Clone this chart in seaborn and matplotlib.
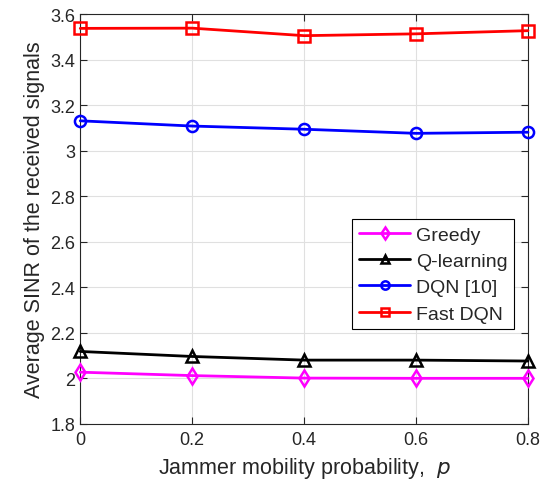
import pandas as pd
import matplotlib.pyplot as plt
import seaborn as sns

p_values = [0, 0.2, 0.4, 0.6, 0.8]
greedy = [2.027, 2.012, 2.001, 2.000, 2.000]
q_learning = [2.118, 2.096, 2.080, 2.080, 2.076]
dqn = [3.131, 3.108, 3.094, 3.076, 3.081]
fast_dqn = [3.537, 3.538, 3.505, 3.513, 3.527]
methods = ["Greedy", "Q-learning", "DQN [10]", "Fast DQN"]
colors = ["#ff00ff", "black", "#0000ff", "#ff0000"]
markers = ["d", "^", "o", "s"]

sns.set_style("whitegrid")
plt.rcParams["font.family"] = ["Liberation Sans", "DejaVu Sans"]

df = pd.DataFrame({
    "p": p_values * 4,
    "sinr": greedy + q_learning + dqn + fast_dqn,
    "method": [m for m in methods for _ in p_values],
})

fig, ax = plt.subplots(figsize=(5.46, 4.85), dpi=100)
fig.subplots_adjust(left=0.147, right=0.967, top=0.969, bottom=0.124)

for m, c, mk in zip(methods, colors, markers):
    sns.lineplot(data=df[df["method"] == m], x="p", y="sinr", label=m,
                 color=c, marker=mk, linewidth=2, markersize=8,
                 markerfacecolor="none", markeredgecolor=c,
                 markeredgewidth=1.8, clip_on=False, zorder=3, ax=ax)

ax.set_xlim(0, 0.8)
ax.set_ylim(1.8, 3.6)
ax.set_xticks(p_values)
ax.set_xticklabels(["0", "0.2", "0.4", "0.6", "0.8"])
ax.set_yticks([1.8, 2.0, 2.2, 2.4, 2.6, 2.8, 3.0, 3.2, 3.4, 3.6])
ax.set_yticklabels(["1.8", "2", "2.2", "2.4", "2.6", "2.8", "3", "3.2", "3.4", "3.6"])
ax.tick_params(direction="in", length=5, labelsize=13, colors="#262626",
               top=True, right=True, bottom=True, left=True)
ax.tick_params(axis="x", pad=5)
ax.grid(True, color="#e0e0e0", linewidth=0.8)
for s in ax.spines.values():
    s.set_edgecolor("#262626")
    s.set_linewidth(0.8)

ax.set_xlabel("Jammer mobility probability,  $p$", fontsize=15.5, labelpad=5)
ax.set_ylabel("Average SINR of the received signals", fontsize=15.5, labelpad=4)

leg = ax.legend(loc="center right", bbox_to_anchor=(0.969, 0.365), fontsize=14,
                frameon=True, fancybox=False, framealpha=1, handlelength=2.6,
                borderpad=0.35, labelspacing=0.45, handletextpad=0.3,
                borderaxespad=0)
leg.get_frame().set_edgecolor("black")
leg.get_frame().set_linewidth(0.8)
for h in leg.legend_handles:
    h.set_markersize(6)

fig.savefig("out.png", dpi=100)
